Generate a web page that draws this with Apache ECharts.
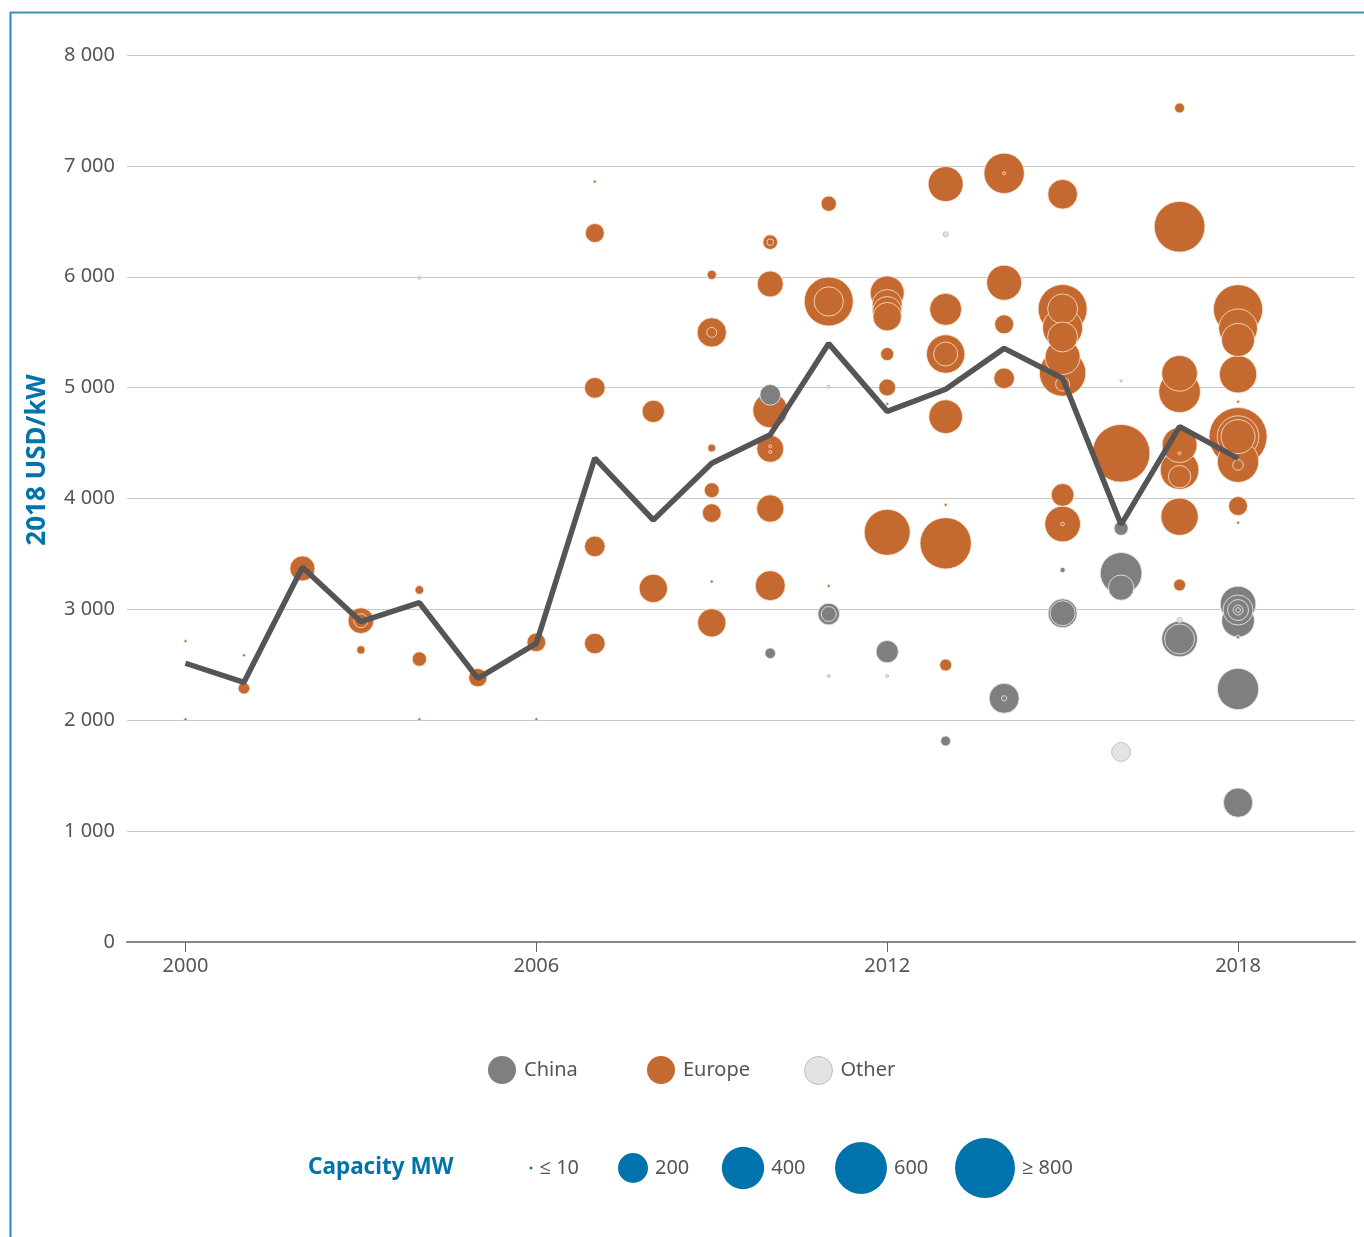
<!DOCTYPE html>
<html><head><meta charset="utf-8">
<script src="https://cdn.jsdelivr.net/npm/echarts@6/dist/echarts.min.js"></script>
<style>html,body{margin:0;padding:0;background:#fff}#c{width:1364px;height:1237px}</style>
</head><body><div id="c"></div>
<script>
// Weighted average installed cost (2018 USD/kW)
const lineYears = [2000,2001,2002,2003,2004,2005,2006,2007,2008,2009,2010,2011,2012,2013,2014,2015,2016,2017,2018];
const avgCost   = [2514,2342,3379,2889,3060,2378,2694,4365,3806,4318,4575,5397,4786,4985,5354,5084,3765,4648,4362];
const xTickYears = [2000,2006,2012,2018];
const capacityLegend = [2,200,400,600,800];
const capacityLegendText = ['\u2264 10','200','400','600','\u2265 800'];

// Projects: [year, USD/kW, capacity MW]
const chinaPoints = [
  [2009,3252,2],[2010,4935,95],[2010,2604,25],[2011,2958,105],[2011,2958,50],[2012,2619,111],
  [2013,1813,22],[2014,2198,200],[2014,2198,6],[2015,3355,6],[2015,2965,187],[2015,2965,139],
  [2016,3731,44],[2016,3325,386],[2016,3196,143],[2017,2733,283],[2017,2733,200],
  [2018,3048,283],[2018,2898,238],[2018,2994,200],[2018,2994,98],[2018,2994,22],[2018,2994,5],
  [2018,2751,3],[2018,2282,380],[2018,1257,191]
];
const europePoints = [
  [2000,2715,2],[2000,2009,2],
  [2001,2586,2],[2001,2288,30],
  [2002,3369,139],
  [2003,2898,147],[2003,2898,44],[2003,2634,15],
  [2004,3175,17],[2004,2552,46],[2004,2009,2],
  [2005,2384,75],
  [2006,2703,78],[2006,2009,2],
  [2007,6858,2],[2007,6394,80],[2007,4998,95],[2007,3568,95],[2007,2692,95],
  [2008,4786,111],[2008,3189,178],
  [2009,6017,19],[2009,5498,191],[2009,5498,22],[2009,4455,14],[2009,4075,50],[2009,3869,78],[2009,2879,178],
  [2010,6312,48],[2010,6312,10],[2010,5935,150],[2010,4795,268],[2010,4448,162],[2010,4470,2],[2010,4420,2],[2010,3910,166],[2010,3214,200],
  [2011,6659,52],[2011,5777,534],[2011,5777,191],[2011,3211,2],
  [2012,5853,257],[2012,5750,200],[2012,5690,190],[2012,5640,180],[2012,5303,38],[2012,5001,64],[2012,4852,2],[2012,3695,470],
  [2013,6836,272],[2013,5706,228],[2013,5303,327],[2013,5303,128],[2013,4738,252],[2013,3944,2],[2013,3596,586],[2013,2498,32],
  [2014,6933,362],[2014,6933,2],[2014,5946,272],[2014,5571,80],[2014,5084,95],
  [2015,6744,196],[2015,5709,534],[2015,5710,200],[2015,5538,356],[2015,5457,200],[2015,5276,272],[2015,5132,480],[2015,5032,44],[2015,4032,115],[2015,3770,283],[2015,3770,3],
  [2016,4408,740],
  [2017,7522,22],[2017,6451,572],[2017,5129,283],[2017,4963,386],[2017,4483,272],[2017,4257,333],[2017,4197,111],[2017,4408,2],[2017,3836,310],[2017,3220,32],
  [2018,5706,541],[2018,5535,333],[2018,5430,242],[2018,5120,310],[2018,4873,2],[2018,4558,750],[2018,4558,386],[2018,4558,257],[2018,4332,380],[2018,4302,25],[2018,3932,80],[2018,3782,2]
];
const otherPoints = [
  [2004,5990,2],[2011,5007,2],[2011,2399,2],[2012,2399,2],[2013,6383,6],[2016,5062,1],[2016,1714,80],[2017,2904,6]
];

function sizeOf(mw){ return Math.max(2.5, 2.12*Math.sqrt(mw)); }
function bySizeDesc(arr){ return arr.slice().sort((a,b)=>b[2]-a[2]); }
function fmt(v){ return String(v).replace(/\B(?=(\d{3})+(?!\d))/g,' '); }

const FONT = '"Noto Sans", "Open Sans", sans-serif';
const BLUE = '#0073AD';

const chart = echarts.init(document.getElementById('c'), null, {renderer:'canvas'});

const capX = [531,633,743,861,985];
const capY = 1168;
const capGraphics = [];
capacityLegend.forEach((mw,i)=>{
  const r = sizeOf(mw)/2;
  capGraphics.push({type:'circle', shape:{cx:capX[i], cy:capY, r:r}, style:{fill:BLUE}});
  capGraphics.push({type:'text', x:capX[i]+r+7, y:capY, style:{text:capacityLegendText[i], fontSize:20, fontFamily:FONT, fill:'#555', align:'left', verticalAlign:'middle'}});
});

const legendBase = {orient:'horizontal', top:1051, itemWidth:28, itemHeight:28, icon:'circle', itemGap:10,
  textStyle:{fontSize:20, color:'#555', fontFamily:FONT, padding:[0,0,0,3]}, selectedMode:false};

chart.setOption({
  animation:false,
  backgroundColor:'#fff',
  textStyle:{fontFamily:FONT},
  grid:{left:127, right:9, top:55, bottom:295},
  legend:[
    Object.assign({}, legendBase, {left:483, data:[{name:'China', itemStyle:{borderWidth:0}}]}),
    Object.assign({}, legendBase, {left:642, data:[{name:'Europe', itemStyle:{borderWidth:0}}]}),
    Object.assign({}, legendBase, {left:799, data:[{name:'Other', itemStyle:{borderWidth:1, borderColor:'#bdbdbd'}}]})
  ],
  xAxis:{
    type:'value', min:1999, max:2020,
    splitLine:{show:false},
    axisLine:{show:true, onZero:false, lineStyle:{color:'#8a8a8a', width:2}},
    axisTick:{show:true, customValues:xTickYears, length:10, lineStyle:{color:'#666', width:1}},
    axisLabel:{customValues:xTickYears, margin:14, fontSize:20, color:'#555', fontFamily:FONT, formatter:v=>String(v)}
  },
  yAxis:{
    type:'value', min:0, max:8000, interval:1000,
    axisLine:{show:false}, axisTick:{show:false},
    splitLine:{lineStyle:{color:'#c9c9c9', width:1}},
    axisLabel:{fontSize:20, color:'#555', margin:12, fontFamily:FONT, formatter:v=>fmt(v)}
  },
  series:[
    {name:'Europe', type:'scatter', data:bySizeDesc(europePoints), symbolSize:d=>sizeOf(d[2]),
      itemStyle:{color:'#C4692F', borderColor:'rgba(255,232,214,0.8)', borderWidth:1, opacity:1},
      emphasis:{disabled:true}, z:2},
    {name:'China', type:'scatter', data:bySizeDesc(chinaPoints), symbolSize:d=>sizeOf(d[2]),
      itemStyle:{color:'#7f7f7f', borderColor:'rgba(235,235,235,0.85)', borderWidth:1, opacity:1},
      emphasis:{disabled:true}, z:3},
    {name:'Other', type:'scatter', data:bySizeDesc(otherPoints), symbolSize:d=>sizeOf(d[2]),
      itemStyle:{color:'#e3e2e5', borderColor:'#c4c4c4', borderWidth:1, opacity:1},
      emphasis:{disabled:true}, z:3},
    {name:'Weighted average', type:'line', data:lineYears.map((y,i)=>[y,avgCost[i]]),
      symbol:'none', lineStyle:{color:'#555555', width:5.5}, z:5, emphasis:{disabled:true}}
  ],
  graphic:[
    {type:'line', shape:{x1:10.5, y1:12, x2:10.5, y2:1237}, style:{stroke:'#2a86c0', lineWidth:2}},
    {type:'line', shape:{x1:10, y1:12.5, x2:1364, y2:12.5}, style:{stroke:'#3a8fc4', lineWidth:2}},
    {type:'text', x:38, y:460, rotation:Math.PI/2,
      style:{text:'2018 USD/kW', fontSize:26, fontWeight:'bold', fontFamily:FONT, fill:BLUE, align:'center', verticalAlign:'middle'}},
    {type:'text', x:308, y:capY, style:{text:'Capacity MW', fontSize:22.5, fontWeight:'bold', fontFamily:FONT, fill:BLUE, align:'left', verticalAlign:'middle'}}
  ].concat(capGraphics)
});
</script></body></html>
